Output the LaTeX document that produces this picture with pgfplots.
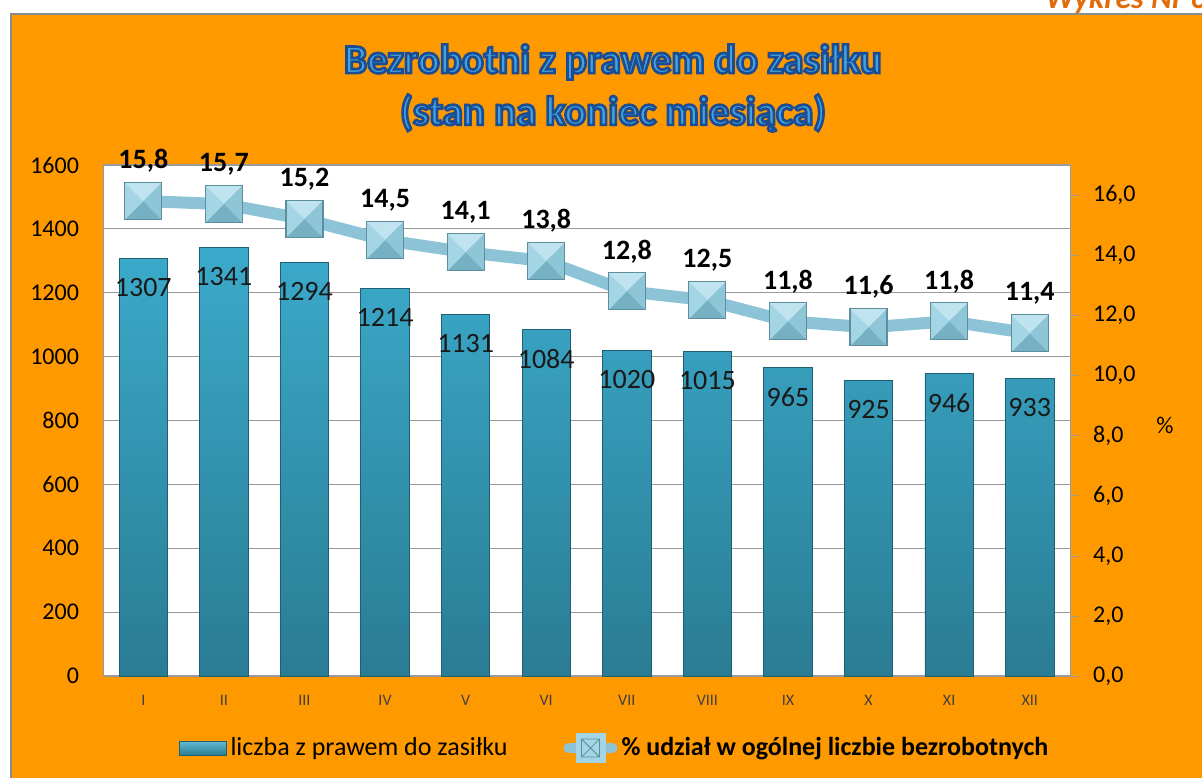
\documentclass[border=0pt]{standalone}
\usepackage{fontspec}
\setmainfont{Carlito}
\newfontfamily\titlefont[FakeBold=6.5]{Carlito Bold}
\usepackage{pgfplots}
\pgfplotsset{compat=1.18}
\definecolor{bgorange}{HTML}{FF9900}
\definecolor{framegray}{HTML}{8C8C8C}
\definecolor{gridgray}{HTML}{9A9A9A}
\definecolor{barTop}{HTML}{3BAACB}
\definecolor{barBot}{HTML}{2A7C93}
\definecolor{barEdge}{HTML}{1E5F72}
\definecolor{lineBlue}{HTML}{8CC3D6}
\definecolor{mkTop}{HTML}{BFE4EF}
\definecolor{mkLeft}{HTML}{A3D5E5}
\definecolor{mkRight}{HTML}{8EC5D7}
\definecolor{mkBot}{HTML}{76B0C3}
\definecolor{mkEdge}{HTML}{5D8E9E}
\definecolor{wykres}{HTML}{E36C0A}
\pgfdeclareplotmark{bevel}{%
  \pgfsetfillcolor{mkTop}%
  \pgfpathmoveto{\pgfqpoint{-\pgfplotmarksize}{\pgfplotmarksize}}%
  \pgfpathlineto{\pgfqpoint{\pgfplotmarksize}{\pgfplotmarksize}}%
  \pgfpathlineto{\pgfpointorigin}\pgfpathclose\pgfusepath{fill}%
  \pgfsetfillcolor{mkRight}%
  \pgfpathmoveto{\pgfqpoint{\pgfplotmarksize}{\pgfplotmarksize}}%
  \pgfpathlineto{\pgfqpoint{\pgfplotmarksize}{-\pgfplotmarksize}}%
  \pgfpathlineto{\pgfpointorigin}\pgfpathclose\pgfusepath{fill}%
  \pgfsetfillcolor{mkBot}%
  \pgfpathmoveto{\pgfqpoint{\pgfplotmarksize}{-\pgfplotmarksize}}%
  \pgfpathlineto{\pgfqpoint{-\pgfplotmarksize}{-\pgfplotmarksize}}%
  \pgfpathlineto{\pgfpointorigin}\pgfpathclose\pgfusepath{fill}%
  \pgfsetfillcolor{mkLeft}%
  \pgfpathmoveto{\pgfqpoint{-\pgfplotmarksize}{-\pgfplotmarksize}}%
  \pgfpathlineto{\pgfqpoint{-\pgfplotmarksize}{\pgfplotmarksize}}%
  \pgfpathlineto{\pgfpointorigin}\pgfpathclose\pgfusepath{fill}%
  \pgfsetstrokecolor{mkEdge}\pgfsetlinewidth{0.6pt}%
  \pgfpathrectanglecorners{\pgfqpoint{-\pgfplotmarksize}{-\pgfplotmarksize}}{\pgfqpoint{\pgfplotmarksize}{\pgfplotmarksize}}%
  \pgfusepath{stroke}%
}
\newcommand\outlined[1]{\special{pdf:bcolor [0.260 0.640 0.880] [0.110 0.300 0.570]}#1\special{pdf:ecolor}}
\pgfplotstableread{
x  n    p
0  1307 15.8
1  1341 15.7
2  1294 15.2
3  1214 14.5
4  1131 14.1
5  1084 13.8
6  1020 12.8
7  1015 12.5
8  965  11.8
9  925  11.6
10 946  11.8
11 933  11.4
}\datatable
\begin{document}
\begin{tikzpicture}
\useasboundingbox (0,0) rectangle (601pt,389pt);
\clip (0,0) rectangle (601pt,389pt);
\fill[white] (0,0) rectangle (601pt,389pt);
\fill[bgorange] (5.25pt,0) rectangle (601pt,381.75pt);
\draw[framegray, line width=1pt] (5.25pt,0) -- (5.25pt,381.75pt) -- (601pt,381.75pt);
\node[anchor=base west, font=\bfseries\itshape\fontsize{16}{16}\selectfont, text=wykres, inner sep=0pt] at (522.5pt,384.5pt) {Wykres Nr 6};
% title
\node[font=\titlefont\fontsize{20.5}{20.5}\selectfont] at (306.5pt,358pt) {\outlined{Bezrobotni z prawem do zasiłku}};
\node[font=\titlefont\fontsize{20.5}{20.5}\selectfont] at (306.5pt,332.5pt) {\outlined{(stan na koniec miesiąca)}};
\begin{axis}[
  at={(51.5pt,51pt)}, anchor=south west,
  width=483.5pt, height=255.5pt, scale only axis,
  xmin=-0.5, xmax=11.5, ymin=0, ymax=1600,
  xtick={0,...,11}, xticklabels={I,II,III,IV,V,VI,VII,VIII,IX,X,XI,XII},
  ytick={0,200,...,1600},
  major tick length=0pt,
  axis background/.style={fill=white},
  axis line style={draw=gridgray},
  ymajorgrids, grid style={draw=gridgray, line width=0.6pt},
  /pgf/number format/assume math mode=true,
  /pgf/number format/1000 sep={},
  xticklabel style={font=\fontsize{8}{8}\selectfont, text=black!75, anchor=center, yshift=-12pt},
  yticklabel style={font=\fontsize{12}{12}\selectfont, xshift=-8.5pt},
  nodes near coords,
  nodes near coords style={font=\fontsize{14}{14}\selectfont, text=black!90, anchor=center, yshift=-14.5pt},
]
\addplot[ybar, bar width=0.6, top color=barTop, bottom color=barBot, draw=barEdge, line width=0.4pt] table[x=x, y=n] {\datatable};
\end{axis}
\begin{axis}[
  at={(51.5pt,51pt)}, anchor=south west,
  width=483.5pt, height=255.5pt, scale only axis,
  xmin=-0.5, xmax=11.5, ymin=0, ymax=17,
  axis x line=none, axis y line*=right,
  ytick={0,2,...,16},
  tick align=outside, major tick length=4pt,
  tick style={draw=gridgray},
  axis line style={draw=gridgray},
  /pgf/number format/assume math mode=true,
  /pgf/number format/.cd, fixed, fixed zerofill, precision=1, use comma, /tikz/.cd,
  yticklabel style={font=\fontsize{12}{12}\selectfont, xshift=4pt},
  legend style={at={(0.53,-0.141)}, anchor=center, draw=none, fill=none,
    font=\fontsize{13}{13}\selectfont, legend columns=2,
    /tikz/every even column/.append style={column sep=26pt}},
]
\addlegendimage{legend image code/.code={\draw[top color=barTop!80!white, bottom color=barBot, draw=barEdge] (0pt,-3.5pt) rectangle (23.5pt,3.5pt);}}
\addlegendentry{liczba z prawem do zasiłku}
\addplot[draw=lineBlue, line width=6pt, mark=bevel, mark size=9.25pt, mark options={line width=0.6pt},
  legend image code/.code={\draw[lineBlue, line width=5pt, line cap=round] (0pt,0pt) -- (22pt,0pt);
     \fill[mkLeft] (6.5pt,-4.5pt) rectangle (15.5pt,4.5pt);
     \draw[mkEdge, line width=0.4pt] (6.5pt,-4.5pt) rectangle (15.5pt,4.5pt) (6.5pt,-4.5pt) -- (15.5pt,4.5pt) (6.5pt,4.5pt) -- (15.5pt,-4.5pt);},
  nodes near coords,
  nodes near coords style={font=\bfseries\fontsize{14}{14}\selectfont, text=black, anchor=center, yshift=20pt},
] table[x=x, y=p] {\datatable};
\addlegendentry{\textbf{\% udział w ogólnej liczbie bezrobotnych}}
\end{axis}
\node[font=\fontsize{12}{12}\selectfont] at (582.5pt,176.5pt) {\%};
\end{tikzpicture}
\end{document}
